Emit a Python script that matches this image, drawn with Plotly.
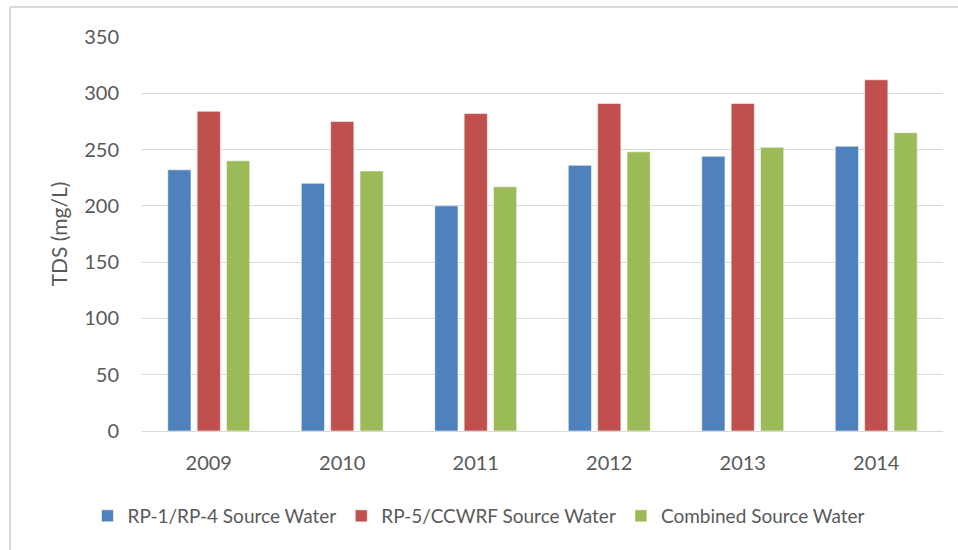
import plotly.graph_objects as go

# Annual TDS concentrations by source water (mg/L)
years = ["2009", "2010", "2011", "2012", "2013", "2014"]
rp1_rp4 = [232, 220, 200, 236, 244, 253]
rp5_ccwrf = [284, 275, 282, 291, 291, 312]
combined = [240, 231, 217, 248, 252, 265]

series_names = ["RP-1/RP-4 Source Water", "RP-5/CCWRF Source Water", "Combined Source Water"]
series_colors = ["#4F81BD", "#C0504D", "#9BBB59"]
y_ticks = [0, 50, 100, 150, 200, 250, 300, 350]

FONT = "Lato, Liberation Sans, sans-serif"
TEXT_COLOR = "#595959"
GRID_COLOR = "#d9d9d9"

fig = go.Figure()
for name, values, color in zip(series_names, [rp1_rp4, rp5_ccwrf, combined], series_colors):
    fig.add_trace(go.Bar(
        x=years,
        y=values,
        name=name,
        marker=dict(color=color, line=dict(color="rgba(255,255,255,0.55)", width=1)),
    ))

# Plot area in pixels, used to place the outer frame lines and legend
W, H = 958, 550
L, R, T, B = 142, 15, 37, 119
pw, ph = W - L - R, H - T - B

def px_x(x):
    return (x - L) / pw

def px_y(y):
    return (H - B - y) / ph

frame = dict(color=GRID_COLOR, width=2)
fig.add_shape(type="line", xref="paper", yref="paper",
              x0=px_x(10), x1=px_x(W + 5), y0=px_y(7), y1=px_y(7), line=frame)
fig.add_shape(type="line", xref="paper", yref="paper",
              x0=px_x(10), x1=px_x(10), y0=px_y(7), y1=px_y(H + 5), line=frame)

fig.update_layout(
    width=W,
    height=H,
    margin=dict(l=L, r=R, t=T, b=B, pad=0, autoexpand=False),
    paper_bgcolor="white",
    plot_bgcolor="white",
    barmode="group",
    bargap=0.34,
    bargroupgap=0.21,
    font=dict(family=FONT, size=20, color=TEXT_COLOR),
    showlegend=True,
    legend=dict(
        orientation="h",
        xref="container", yref="paper",
        x=0.5, xanchor="center",
        y=px_y(516), yanchor="middle",
        font=dict(family=FONT, size=19, color=TEXT_COLOR),
        itemwidth=30,
        traceorder="normal",
    ),
    xaxis=dict(
        showgrid=False,
        showline=True,
        linecolor=GRID_COLOR,
        linewidth=1,
        ticks="",
        ticklabelstandoff=14,
        tickfont=dict(family=FONT, size=20, color=TEXT_COLOR),
    ),
    yaxis=dict(
        range=[0, 350],
        tickvals=y_ticks,
        showgrid=True,
        gridcolor=GRID_COLOR,
        gridwidth=1,
        zeroline=False,
        showline=False,
        ticks="",
        ticklabelstandoff=22,
        tickfont=dict(family=FONT, size=20, color=TEXT_COLOR),
        title=dict(text="TDS (mg/L)", standoff=10,
                   font=dict(family=FONT, size=21, color=TEXT_COLOR)),
    ),
)

fig.write_html("out.html")
